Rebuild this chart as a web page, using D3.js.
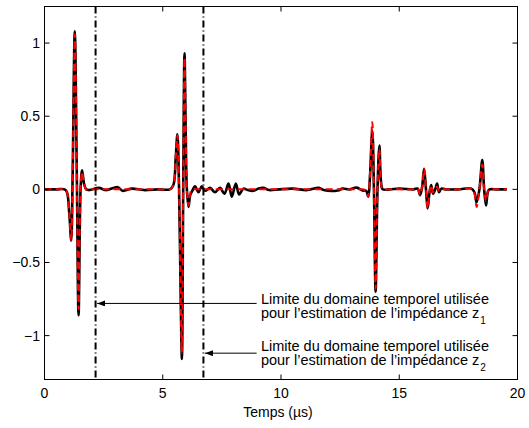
<!DOCTYPE html>
<html>
<head>
<meta charset="utf-8">
<script src="https://cdn.jsdelivr.net/npm/d3@7"></script>
<style>
  html, body { margin: 0; padding: 0; background: #fff; }
  svg { display: block; }
  text { font-family: "Liberation Sans", Arial, Helvetica, sans-serif; fill: #000; }
</style>
</head>
<body>
<svg id="chart" width="529" height="428"></svg>
<script>
// ---- data ----
const timeUs = [0, 0.5, 0.85, 0.95, 1.05, 1.13, 1.19, 1.28, 1.37, 1.44, 1.53, 1.59, 1.67, 1.76, 1.9,
  2.3, 2.6, 3.1, 3.3, 3.7, 4.2, 4.8, 5.3, 5.45, 5.55, 5.62, 5.69, 5.76, 5.81, 5.865, 5.92, 5.97, 6.02, 6.09, 6.16,
  6.23, 6.37, 6.51, 6.65, 6.79, 7.0, 7.21, 7.42, 7.61, 7.78, 7.92, 8.09, 8.23, 8.41, 8.6, 8.83, 9.05, 9.25, 9.5, 9.9,
  10.5, 11.1, 11.6, 11.8, 12.4, 12.6, 12.9, 13.2, 13.45, 13.6, 13.69, 13.76, 13.86, 13.93, 14.0, 14.08, 14.16, 14.23, 14.3,
  14.6, 15.0, 15.6, 15.78, 15.88, 15.97, 16.05, 16.13, 16.2, 16.28, 16.35, 16.43, 16.52, 16.6, 16.68, 16.78, 16.95,
  17.5, 18.05, 18.18, 18.27, 18.39, 18.51, 18.59, 18.67, 18.76, 18.84, 19.1, 19.55];
const measured = [0, 0, 0, -0.02, -0.17, -0.35, 0.1, 1.08, 0.05, -0.86, 0.02, 0.13, 0.04, 0, -0.005,
  0.01, -0.005, 0.015, -0.01, 0.005, -0.005, 0, 0, 0.03, 0.22, 0.377, 0, -0.75, -1.16, 0, 0.93, 0.4, 0, -0.12, -0.04,
  -0.016, 0.02, -0.02, 0.02, -0.01, 0.01, -0.02, 0.01, -0.03, 0.04, -0.05, 0.04, -0.035, 0.005, -0.005, -0.01, 0.005, 0.01, -0.005, 0,
  0.005, -0.005, 0.01, -0.005, -0.008, 0.005, 0, 0.012, -0.008, -0.01, -0.05, 0.08, 0.40, 0, -0.70, 0, 0.30, 0.05, 0,
  0, 0.005, 0, 0.005, -0.04, 0.02, 0.14, 0, -0.13, -0.02, 0.03, -0.03, 0, 0.04, -0.02, 0.005, 0,
  0, 0.005, -0.02, -0.09, 0, 0.20, 0, -0.11, -0.01, 0, 0, 0];
const model = [0, 0, 0, -0.02, -0.17, -0.35, 0.1, 1.06, 0.05, -0.82, 0.02, 0.12, 0.04, 0, 0,
  0, 0, 0, 0, 0, 0, 0, 0, 0.03, 0.22, 0.37, 0, -0.74, -1.12, 0, 0.90, 0.4, 0, -0.11, -0.03,
  0, 0, 0, 0, 0, 0, 0, 0, 0, 0, 0, 0, 0, 0, 0, 0, 0, 0, 0, 0,
  0, 0, 0, 0, 0, 0, 0, 0, 0, -0.01, -0.05, 0.10, 0.46, 0, -0.68, 0, 0.28, 0.04, 0,
  0, 0, 0, 0.005, -0.04, 0.02, 0.14, 0, -0.13, -0.02, 0.03, -0.02, 0, 0.02, -0.01, 0, 0,
  0, 0.005, -0.03, -0.12, 0, 0.17, 0, -0.08, -0.01, 0, 0, 0];
const xTicks = [0, 5, 10, 15, 20];
const yTicks = [-1, -0.5, 0, 0.5, 1];
const yTickLabels = ["\u22121", "\u22120.5", "0", "0.5", "1"];
const xLabel = "Temps (\u00b5s)";
const limits = [2.16, 6.72];
const arrowY = [-0.78, -1.12];
const noteLine1 = "Limite du domaine temporel utilisée";
const noteLine2 = "pour l\u2019estimation de l\u2019impédance z";
const noteSubs = ["1", "2"];

// ---- layout ----
const svg = d3.select("#chart");
const L = 44.5, R = 517.5, T = 6.5, B = 379.5;
const x = d3.scaleLinear().domain([0, 20]).range([L, R]);
const y = d3.scaleLinear().domain([-1.3, 1.25]).range([B, T]);

// defs
svg.append("defs").append("marker")
  .attr("id", "ah").attr("viewBox", "0 0 8 6").attr("refX", 8).attr("refY", 3)
  .attr("markerWidth", 8).attr("markerHeight", 6).attr("markerUnits", "userSpaceOnUse")
  .attr("orient", "auto")
  .append("path").attr("d", "M0,0 L8,3 L0,6 Z").attr("fill", "#000");

const data = timeUs.map((t, i) => ({ t, m: measured[i], r: model[i] }));
const lineM = d3.line().x(d => x(d.t)).y(d => y(d.m)).curve(d3.curveCatmullRom.alpha(0.5));
const lineR = d3.line().x(d => x(d.t)).y(d => y(d.r)).curve(d3.curveCatmullRom.alpha(0.5));

const plot = svg.append("g");
plot.append("path").datum(data).attr("d", lineM)
  .attr("fill", "none").attr("stroke", "#000").attr("stroke-width", 2.6).attr("stroke-linejoin", "round");
plot.append("path").datum(data).attr("d", lineR)
  .attr("fill", "none").attr("stroke", "#ff0000").attr("stroke-width", 2).attr("stroke-dasharray", "7,4");

// vertical limit lines
plot.selectAll("line.lim").data(limits).enter().append("line")
  .attr("x1", d => x(d)).attr("x2", d => x(d)).attr("y1", T).attr("y2", B)
  .attr("stroke", "#000").attr("stroke-width", 2).attr("stroke-dasharray", "7,3,1,3");

// axes box
svg.append("rect").attr("x", L).attr("y", T).attr("width", R - L).attr("height", B - T)
  .attr("fill", "none").attr("stroke", "#000").attr("stroke-width", 1);

const tl = 5;
const ax = svg.append("g");
xTicks.forEach(v => {
  ax.append("line").attr("x1", x(v)).attr("x2", x(v)).attr("y1", B).attr("y2", B - tl).attr("stroke", "#000");
  ax.append("line").attr("x1", x(v)).attr("x2", x(v)).attr("y1", T).attr("y2", T + tl).attr("stroke", "#000");
  ax.append("text").attr("x", x(v)).attr("y", B + 18.5).attr("text-anchor", "middle")
    .attr("font-size", 14).text(String(v));
});
yTicks.forEach((v, i) => {
  ax.append("line").attr("x1", L).attr("x2", L + tl).attr("y1", y(v)).attr("y2", y(v)).attr("stroke", "#000");
  ax.append("line").attr("x1", R).attr("x2", R - tl).attr("y1", y(v)).attr("y2", y(v)).attr("stroke", "#000");
  ax.append("text").attr("x", L - 4.5).attr("y", y(v) + 5).attr("text-anchor", "end")
    .attr("font-size", 14).text(yTickLabels[i]);
});
svg.append("text").attr("x", (L + R) / 2 - 3).attr("y", 417).attr("text-anchor", "middle")
  .attr("font-size", 14).text(xLabel);

// annotations
const arrowStart = 8.97, textX = 9.15;
const baseOff = [[1.0, 15.0], [-2.3, 11.7]];
arrowY.forEach((ay, i) => {
  svg.append("line").attr("x1", x(arrowStart)).attr("x2", x(limits[i]) + 1.5)
    .attr("y1", y(ay)).attr("y2", y(ay)).attr("stroke", "#000").attr("stroke-width", 1)
    .attr("marker-end", "url(#ah)");
  const g = svg.append("g");
  g.append("text").attr("x", x(textX)).attr("y", y(ay) + baseOff[i][0]).attr("font-size", 14.5).text(noteLine1);
  const t2 = g.append("text").attr("x", x(textX)).attr("y", y(ay) + baseOff[i][1]).attr("font-size", 14.5);
  t2.append("tspan").text(noteLine2);
  t2.append("tspan").attr("font-size", 10).attr("dy", 6).attr("dx", 1).text(noteSubs[i]);
});
</script>
</body>
</html>
